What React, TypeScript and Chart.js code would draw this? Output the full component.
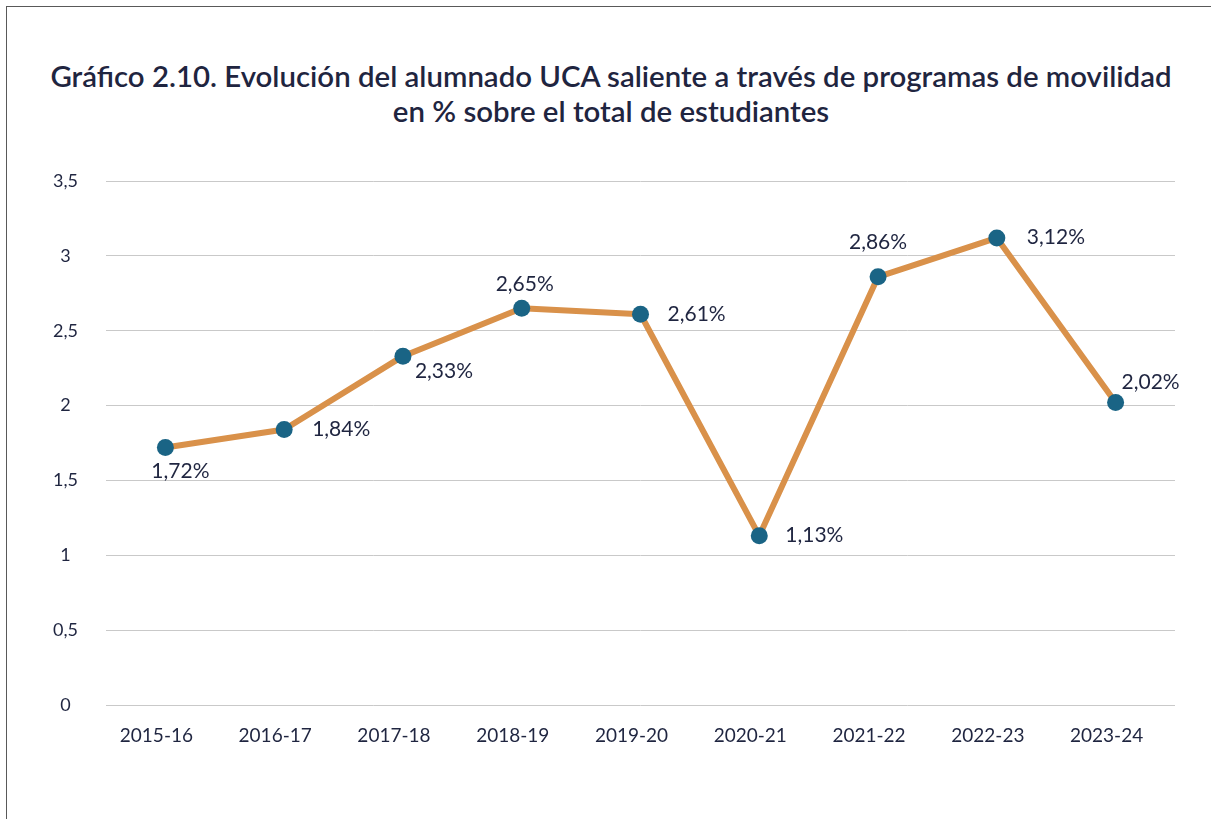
import React, { useEffect, useRef } from "react";
import { Chart, registerables } from "chart.js";

Chart.register(...registerables);

const titleLines = [
  "Gráfico 2.10. Evolución del alumnado UCA saliente a través de programas de movilidad",
  "en % sobre el total de estudiantes",
];
const categories = [
  "2015-16",
  "2016-17",
  "2017-18",
  "2018-19",
  "2019-20",
  "2020-21",
  "2021-22",
  "2022-23",
  "2023-24",
];
const values = [1.72, 1.84, 2.33, 2.65, 2.61, 1.13, 2.86, 3.12, 2.02];
const yMin = 0;
const yMax = 3.5;
const yStep = 0.5;

const TEXT = "#1f2540";
const LINE = "#d9914a";
const POINT = "#1a6485";
const GRID = "#c9c9c9";

const fmt = (v: number) => String(v).replace(".", ",");

export default function App() {
  const ref = useRef<HTMLCanvasElement>(null);

  useEffect(() => {
    const placements: { dx: number; dy: number; align: CanvasTextAlign }[] = [
      { dx: 15, dy: 24, align: "center" },
      { dx: 28, dy: 0, align: "left" },
      { dx: 41, dy: 15, align: "center" },
      { dx: 3, dy: -24, align: "center" },
      { dx: 27, dy: 0, align: "left" },
      { dx: 26, dy: -1, align: "left" },
      { dx: 0, dy: -35, align: "center" },
      { dx: 30, dy: -1, align: "left" },
      { dx: 35, dy: -20, align: "center" },
    ];
    const labelPlugin = {
      id: "pointValueLabels",
      afterDatasetsDraw(chart: any) {
        const ctx = chart.ctx as CanvasRenderingContext2D;
        const meta = chart.getDatasetMeta(0);
        ctx.save();
        ctx.font = "21px Lato";
        ctx.fillStyle = TEXT;
        ctx.textBaseline = "middle";
        meta.data.forEach((pt: any, i: number) => {
          const p = placements[i];
          ctx.textAlign = p.align;
          ctx.fillText(fmt(values[i]) + "%", pt.x + p.dx, pt.y + p.dy);
        });
        ctx.restore();
      },
    };

    const chart = new Chart(ref.current as HTMLCanvasElement, {
      type: "line",
      data: {
        labels: categories,
        datasets: [
          {
            data: values,
            borderColor: LINE,
            borderWidth: 6,
            pointRadius: 8.5,
            pointBackgroundColor: POINT,
            pointBorderWidth: 0,
            tension: 0,
            borderJoinStyle: "round",
          },
        ],
      },
      options: {
        animation: false,
        responsive: false,
        layout: { padding: { top: 181, left: 8, right: 36, bottom: 54 } },
        plugins: {
          legend: { display: false },
          tooltip: { enabled: false },
          title: { display: false },
        },
        scales: {
          x: {
            offset: true,
            grid: { display: false },
            border: { display: false },
            ticks: {
              color: TEXT,
              font: { family: "Lato", size: 19 },
              padding: 11,
              labelOffset: -9,
              maxRotation: 0,
            },
            afterFit(s: any) {
              s.height = 60;
            },
          },
          y: {
            min: yMin,
            max: yMax,
            border: { display: false },
            grid: { color: GRID, drawTicks: false, lineWidth: 1 },
            ticks: {
              stepSize: yStep,
              color: TEXT,
              font: { family: "Lato", size: 18 },
              crossAlign: "center",
              padding: 28,
              callback: (v: any) => fmt(Number(v)),
            },
            afterFit(s: any) {
              s.width = 98;
            },
          },
        },
      },
      plugins: [labelPlugin],
    } as any);
    return () => chart.destroy();
  }, []);

  return (
    <div
      style={{
        position: "fixed",
        left: 0,
        top: 0,
        width: 1211,
        height: 819,
        overflow: "hidden",
        background: "#fff",
      }}
    >
      <div
        style={{
          position: "absolute",
          left: 6,
          top: 6,
          width: 1300,
          height: 900,
          border: "1px solid #595959",
        }}
      />
      <div
        style={{
          position: "absolute",
          left: 11,
          top: 58,
          width: 1200,
          textAlign: "center",
          fontFamily: "Lato",
          fontWeight: 600,
          fontSize: 29.4,
          lineHeight: "35px",
          color: TEXT,
        }}
      >
        {titleLines.map((t, i) => (
          <div key={i} style={{ whiteSpace: "nowrap" }}>
            {t}
          </div>
        ))}
      </div>
      <canvas
        ref={ref}
        width={1211}
        height={819}
        style={{ position: "absolute", left: 0, top: 0, display: "block" }}
      />
    </div>
  );
}
